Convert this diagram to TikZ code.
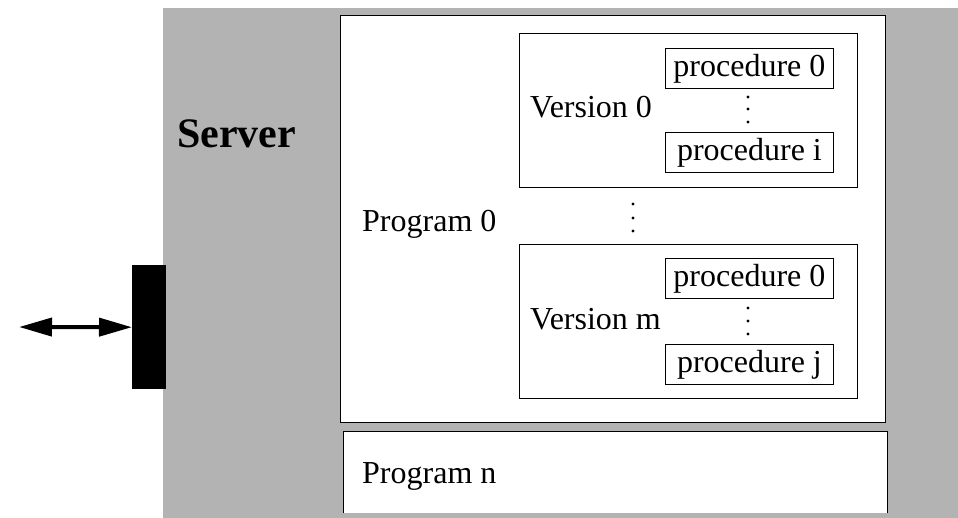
\documentclass[tikz,border=0pt]{standalone}
\usepackage{fontspec}
\setmainfont{Liberation Serif}
\usetikzlibrary{arrows.meta}
\definecolor{srvgray}{RGB}{179,179,179}
\begin{document}
\begin{tikzpicture}[x=1pt,y=-1pt,
  boxA/.style={draw=black, line width=1pt, fill=white, rectangle, inner sep=0pt, anchor=north west},
  procbox/.style={draw=black, line width=0.9pt, fill=white, rectangle, inner sep=0pt, anchor=north west,
    minimum width=168pt, minimum height=40pt, font=\fontsize{32}{38}\selectfont},
  lbl/.style={anchor=base west, inner sep=0pt, font=\fontsize{32}{38}\selectfont},
  dotc/.style={fill=black},
  tip/.tip={Triangle[length=33pt,width=18pt]}
]
\useasboundingbox (0,0) rectangle (958,518);
\fill[srvgray] (163,8) rectangle (958,518);

% Program 0
\node[boxA, line width=1.2pt, minimum width=545pt, minimum height=407pt] (prog0) at (340,15) {};
% Version 0
\node[boxA, minimum width=338pt, minimum height=154pt] (ver0) at (519,33) {};
\node[procbox] (p00) at (665,48) {procedure 0};
\node[procbox] (p0i) at (665,132) {procedure i};
% Version m
\node[boxA, minimum width=338pt, minimum height=154pt] (verm) at (519,244) {};
\node[procbox] (pm0) at (665,258) {procedure 0};
\node[procbox] (pmj) at (665,344) {procedure j};

% Program n (open at bottom)
\node[fill=white, rectangle, inner sep=0pt, anchor=north west, minimum width=544pt, minimum height=82pt] (progn) at (343,431) {};
\draw[line width=1pt] (progn.south west) -- (progn.north west) -- (progn.north east) -- (progn.south east);

% labels
\node[anchor=base west, inner sep=0pt, font=\bfseries\fontsize{42}{50}\selectfont] (srv) at (177,148) {Server};
\node[lbl] (l0) at (362,232) {Program 0};
\node[lbl] (lv0) at (530,118) {Version 0};
\node[lbl] (lvm) at (530,330) {Version m};
\node[lbl] (ln) at (362,483) {Program n};

% dots
\foreach \yy in {97,109,122} \fill[dotc] (748,\yy) circle (1.6pt);
\foreach \yy in {308,321,334} \fill[dotc] (748,\yy) circle (1.6pt);
\foreach \yy in {204,218,231} \fill[dotc] (633,\yy) circle (1.6pt);

% port and arrow
\node[fill=black, rectangle, inner sep=0pt, anchor=north west, minimum width=34pt, minimum height=124pt] (port) at (132,265) {};
\coordinate (client) at (19,327);
\draw[line width=4pt, tip-tip] (client) -- (port.west);
\end{tikzpicture}
\end{document}
